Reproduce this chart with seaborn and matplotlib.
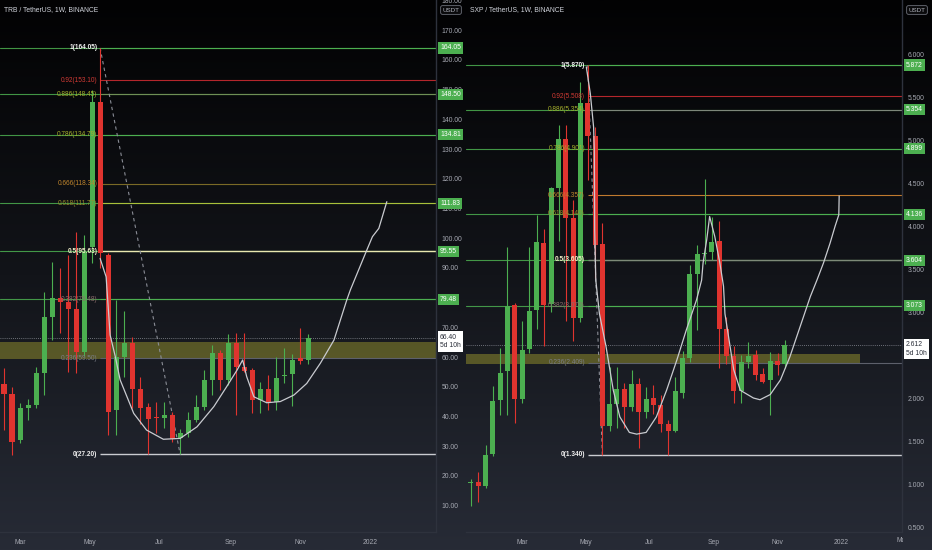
import numpy as np
import pandas as pd
import matplotlib
matplotlib.use('Agg')
import matplotlib.pyplot as plt
import matplotlib.dates as mdates
import matplotlib.transforms as mtransforms
from matplotlib.colors import LinearSegmentedColormap
import seaborn as sns

# ---- TRB / USDT weekly candles, first bar 2021-02-15 ----
trb_start = '2021-02-15'
trb_open = [50.9, 47.7, 32.1, 42.7, 44.0, 54.7, 73.6, 79.7, 78.6, 76.0,
            61.8, 97.0, 145.9, 94.3, 42.1, 59.9, 64.6, 49.1, 43.2, 39.6,
            39.3, 40.6, 32.6, 34.3, 38.8, 43.0, 52.2, 61.4, 52.4, 64.8,
            56.5, 55.6, 45.5, 49.1, 44.9, 53.5, 54.2, 59.5, 59.0]
trb_high = [56.2, 50.0, 44.4, 46.0, 56.7, 82.0, 92.0, 90.0, 94.3, 102.0,
            101.0, 150.0, 164.05, 95.0, 79.2, 75.6, 66.6, 53.4, 44.4, 44.9,
            44.9, 41.6, 35.6, 41.6, 47.2, 55.6, 64.0, 62.3, 67.9, 68.2,
            68.0, 56.2, 51.7, 53.9, 60.0, 62.9, 61.0, 69.6, 67.9]
trb_low = [35.4, 27.0, 31.0, 38.8, 42.7, 47.2, 65.7, 68.0, 55.0, 54.5,
           60.5, 91.6, 90.0, 33.7, 33.7, 53.4, 42.7, 37.6, 27.5, 34.3,
           36.0, 31.5, 27.2, 33.2, 38.2, 42.1, 47.2, 48.9, 50.5, 40.4,
           55.0, 41.0, 41.0, 42.1, 42.1, 51.1, 43.5, 57.6, 57.8]
trb_close = [47.7, 31.5, 42.7, 44.0, 54.5, 73.6, 79.7, 78.6, 76.0, 61.8,
             95.5, 145.9, 94.9, 41.5, 59.9, 64.6, 49.1, 42.7, 39.0, 39.4,
             40.4, 32.3, 34.3, 38.8, 43.0, 52.2, 61.4, 52.2, 64.8, 56.5,
             55.4, 45.5, 49.1, 44.9, 53.0, 53.8, 59.0, 58.7, 66.4]

# hand drawn cup curve (weeks after first bar, price)
trb_curve_week = [12.0, 12.75, 13.25, 13.9, 14.5, 16.2, 17.8, 19.9, 22.0, 24.1,
                  26.2, 27.8, 29.1, 29.8, 30.3, 31.2, 32.8, 34.5, 36.2, 37.8,
                  39.5, 41.2, 42.8, 43.25, 45.3, 46.0, 46.8, 47.8]
trb_curve_price = [93.2, 87.0, 67.4, 60.1, 52.3, 41.0, 35.4, 32.3, 32.6, 36.5,
                   43.3, 50.0, 55.6, 59.0, 53.4, 46.6, 44.6, 45.0, 47.2, 51.1,
                   57.9, 65.7, 79.2, 82.6, 96.0, 100.5, 103.3, 112.3]

trb_fib_ratio = ['1', '0.92', '0.886', '0.786', '0.666', '0.618', '0.5', '0.382', '0.236', '0']
trb_fib_value = [164.05, 153.10, 148.45, 134.79, 118.34, 111.77, 95.63, 79.48, 59.50, 27.20]
trb_tags = [164.05, 148.50, 134.81, 111.83, 95.55, 79.48]
trb_band = (59.3, 65.2)
trb_last = 66.40

# ---- SXP / USDT weekly candles, first bar 2021-01-11 ----
sxp_start = '2021-01-11'
sxp_open = [1.01, 1.019, 0.98, 1.35, 1.977, 2.31, 3.08, 1.985, 2.57, 3.02,
            3.80, 3.09, 4.44, 5.01, 4.09, 2.93, 5.43, 5.05, 3.79, 1.67,
            1.93, 2.11, 1.89, 2.16, 1.84, 2.00, 1.92, 1.70, 1.62, 2.06,
            2.46, 3.44, 3.67, 3.70, 3.82, 2.80, 2.49, 2.08, 2.42, 2.50,
            2.28, 2.21, 2.43, 2.39]
sxp_high = [1.06, 1.143, 1.45, 2.14, 2.58, 3.76, 3.10, 2.90, 3.76, 4.13,
            3.97, 4.45, 5.17, 5.17, 4.30, 5.68, 5.87, 5.15, 4.04, 2.36,
            2.36, 2.17, 2.33, 2.23, 2.13, 2.15, 2.03, 1.74, 2.25, 2.55,
            3.55, 3.78, 4.55, 4.10, 4.06, 2.94, 2.60, 2.50, 2.65, 2.56,
            2.35, 2.53, 2.52, 2.68]
sxp_low = [0.74, 0.794, 0.949, 1.32, 1.80, 1.80, 1.71, 1.94, 2.52, 2.80,
           2.60, 3.00, 3.82, 2.90, 2.66, 2.88, 4.53, 3.40, 1.34, 1.62,
           1.65, 1.65, 1.85, 1.42, 1.77, 1.81, 1.61, 1.34, 1.60, 2.00,
           2.42, 2.79, 3.56, 3.60, 2.35, 2.40, 1.94, 1.94, 2.35, 2.21,
           2.18, 1.80, 2.27, 2.35]
sxp_close = [1.02, 0.976, 1.337, 1.969, 2.296, 3.07, 1.985, 2.56, 3.01, 3.81,
             3.08, 4.44, 5.01, 4.09, 2.93, 5.43, 5.05, 3.78, 1.67, 1.93,
             2.11, 1.89, 2.16, 1.84, 1.99, 1.92, 1.70, 1.62, 2.08, 2.46,
             3.44, 3.67, 3.69, 3.81, 2.80, 2.49, 2.08, 2.42, 2.49, 2.27,
             2.19, 2.43, 2.38, 2.612]

sxp_curve_week = [15.8, 16.35, 16.8, 16.9, 16.95, 17.1, 17.6, 18.5, 19.5, 20.4,
                  21.7, 22.7, 24.0, 25.4, 26.8, 28.2, 29.5, 30.9, 31.6, 31.8,
                  32.3, 32.7, 33.4, 34.1, 34.6, 34.8, 35.5, 36.0, 36.9, 38.7,
                  39.6, 41.0, 42.4, 43.7, 45.1, 46.5, 47.4, 48.3, 49.2, 49.9,
                  50.4, 50.45]
sxp_curve_price = [5.85, 5.54, 5.15, 4.88, 3.95, 3.37, 2.98, 2.60, 2.09, 1.78,
                   1.60, 1.58, 1.60, 1.78, 2.09, 2.44, 2.79, 3.14, 3.37, 3.57,
                   3.84, 4.11, 3.88, 3.57, 3.30, 2.98, 2.60, 2.33, 2.09, 2.00,
                   1.98, 2.04, 2.21, 2.48, 2.83, 3.18, 3.37, 3.57, 3.80, 4.00,
                   4.13, 4.35]

sxp_fib_ratio = ['1', '0.92', '0.886', '0.786', '0.666', '0.618', '0.5', '0.382', '0.236', '0']
sxp_fib_value = [5.870, 5.508, 5.354, 4.901, 4.357, 4.140, 3.605, 3.070, 2.409, 1.340]
sxp_tags = [5.872, 5.354, 4.899, 4.136, 3.604, 3.073]
sxp_band = (2.40, 2.51)
sxp_last = 2.612

# styling
GREEN = '#4caf50'
RED = '#e0342f'
TXT = '#a6a9b2'
trb_line_colors = ['#4caf50', '#b5262c', '#6f8f55', '#4caf50', '#7a6a26',
                   '#a9c03a', '#e9e7b0', '#4caf50', '#5d606b', '#c9cbd0']
sxp_line_colors = ['#4caf50', '#b5262c', '#7d877a', '#4caf50', '#c07a2e',
                   '#4caf50', '#7d8a78', '#4caf50', '#5d606b', '#c9cbd0']
fib_label_colors = ['#f0f0f0', '#d23a34', '#a6b02c', '#a6b02c', '#c0862c',
                    '#9a8f2c', '#f1efc8', '#8c6c6c', '#7b7e88', '#f0f0f0']
FS = 4.9

sns.set_theme(style='dark')
plt.rcParams['font.family'] = ['Liberation Sans', 'DejaVu Sans']

W, H = 932, 550
fig = plt.figure(figsize=(W / 100, H / 100), dpi=100)

# gradient background like the tradingview dark theme
bg = fig.add_axes([0, 0, 1, 1], zorder=-10)
grad = np.linspace(0, 1, 256).reshape(-1, 1)
cmap = LinearSegmentedColormap.from_list('tvbg', ['#020203', '#121419', '#272b36'])
bg.imshow(grad, aspect='auto', cmap=cmap, extent=[0, 1, 0, 1], origin='upper')
bg.axis('off')


def draw_panel(left_px, title, start, o, h, l, c, curve_w, curve_p,
               fib_ratio, fib_value, line_colors, anchor_idx, low_idx, tags, band, band_end,
               last, fmt, ylim, xlim, yticks, body_days, mar_label):
    ax = fig.add_axes([left_px / W, 18 / H, 436 / W, 532 / H])
    ax.patch.set_alpha(0)
    dates = pd.date_range(start, periods=len(o), freq='7D')
    x = mdates.date2num(dates)
    t0 = x[0]
    o, h, l, c = map(np.array, (o, h, l, c))
    ax.set_xlim(mdates.date2num(pd.Timestamp(xlim[0])), mdates.date2num(pd.Timestamp(xlim[1])))
    ax.set_ylim(*ylim)
    xmin, xmax = ax.get_xlim()

    # highlighted zone
    bx1 = xmax if band_end is None else mdates.date2num(pd.Timestamp(band_end))
    ax.fill_between([xmin, bx1], band[0], band[1], color='#8d8a2c', alpha=0.55, lw=0, zorder=1)

    # user horizontal lines with price tags
    for v in tags:
        ax.axhline(v, color=GREEN, lw=0.8, alpha=0.85, zorder=2)
    # last price line
    ax.axhline(last, color='#8a8d96', lw=0.6, ls=(0, (1, 1.5)), zorder=2)

    # fib retracement from the anchor bar
    ax_x = x[anchor_idx]
    for r, v, lc, tc in zip(fib_ratio, fib_value, line_colors, fib_label_colors):
        ax.hlines(v, ax_x, xmax, color=lc, lw=1.0 if r in ('0', '0.5') else 0.8, zorder=2)
        ax.annotate(f'{r}({fmt.format(v)})', xy=(ax_x, v), xytext=(-2, 0),
                    textcoords='offset points', ha='right', va='center',
                    fontsize=4.7, color=tc, zorder=6,
                    fontweight='bold' if r in ('1', '0', '0.5') else 'normal')
    ax.plot([x[anchor_idx], x[low_idx]], [fib_value[0], fib_value[-1]],
            color='#8a8d96', lw=0.8, ls=(0, (3, 3)), zorder=2)

    # candles
    up = c >= o
    cols = np.where(up, GREEN, RED)
    ax.vlines(x, l, h, colors=cols, lw=0.8, zorder=3)
    body = np.abs(c - o)
    body = np.maximum(body, (ylim[1] - ylim[0]) * 0.0015)
    ax.bar(x, body, bottom=np.minimum(o, c), width=body_days, color=cols, lw=0, zorder=4)

    # cup curve
    curve = pd.DataFrame({'x': t0 + np.array(curve_w) * 7, 'price': curve_p})
    sns.lineplot(data=curve, x='x', y='price', ax=ax, sort=False, estimator=None,
                 color='#c9cbd0', lw=0.9, zorder=5)

    # axes cosmetics
    for s in ('top', 'left'):
        ax.spines[s].set_visible(False)
    for s in ('right', 'bottom'):
        ax.spines[s].set_visible(True)
        ax.spines[s].set_color('#2e323d')
        ax.spines[s].set_linewidth(1)
    ax.grid(False)
    ax.set_xlabel('')
    ax.set_ylabel('')
    ax.yaxis.tick_right()
    ax.set_yticks(yticks)
    ax.set_yticklabels([fmt.format(v) for v in yticks])
    for lbl in ax.get_yticklabels():
        lbl.set_horizontalalignment('left')
    ax.tick_params(axis='y', length=0, pad=4, labelsize=FS, labelcolor=TXT)
    months = ['2021-03-01', '2021-05-01', '2021-07-01', '2021-09-01', '2021-11-01', '2022-01-01']
    ax.set_xticks(mdates.date2num(pd.to_datetime(months)))
    ax.set_xticklabels(['Mar', 'May', 'Jul', 'Sep', 'Nov', '2022'])
    ax.tick_params(axis='x', length=0, pad=5, labelsize=FS, labelcolor=TXT)

    if mar_label:
        t = ax.text(mdates.date2num(pd.Timestamp('2022-03-01')), -9 / 532, 'Mar',
                    transform=mtransforms.blended_transform_factory(ax.transData, ax.transAxes),
                    ha='center', va='center', fontsize=FS, color=TXT)
        t.set_clip_on(True)
        t.set_clip_box(mtransforms.TransformedBbox(
            mtransforms.Bbox([[left_px / W, 0], [(left_px + 437) / W, 1]]), fig.transFigure))

    ax.text(4 / 436, 1 - 10 / 532, title, transform=ax.transAxes, ha='left', va='center',
            fontsize=4.9, color='#d1d4dc')
    ax.text(1 + 15 / 436, 1 - 10 / 532, 'USDT', transform=ax.transAxes, ha='center',
            va='center', fontsize=4.5, color='#b2b5be', clip_on=False, zorder=8,
            bbox=dict(boxstyle='round,pad=0.3', fc='#0a0a0c', ec='#6b6e78', lw=0.6))

    tr = mtransforms.blended_transform_factory(ax.transAxes, ax.transData)
    for v in tags:
        ax.text(1 + 4 / 436, v, fmt.format(v), transform=tr, ha='left', va='center',
                fontsize=FS, color='white', clip_on=False, zorder=7,
                bbox=dict(boxstyle='square,pad=0.3', fc=GREEN, ec='none'))
    ax.annotate(f'{fmt.format(last)}\n5d 10h', xy=(1 + 4 / 436, last), xycoords=tr,
                xytext=(0, 3), textcoords='offset points', ha='left', va='top',
                fontsize=FS, color='#2a2e39', linespacing=1.3, annotation_clip=False,
                zorder=7, bbox=dict(boxstyle='square,pad=0.35', fc='white', ec='none'))
    return ax


draw_panel(0, 'TRB / TetherUS, 1W, BINANCE', trb_start, trb_open, trb_high, trb_low, trb_close,
           trb_curve_week, trb_curve_price, trb_fib_ratio, trb_fib_value, trb_line_colors, 12, 22,
           trb_tags, trb_band, None, trb_last, '{:.2f}', (1.08, 180.2),
           ('2021-02-11 12:00', '2022-02-27 14:00'), list(range(10, 190, 10)), 4.4, False)

draw_panel(466, 'SXP / TetherUS, 1W, BINANCE', sxp_start, sxp_open, sxp_high, sxp_low, sxp_close,
           sxp_curve_week, sxp_curve_price, sxp_fib_ratio, sxp_fib_value, sxp_line_colors, 16, 18,
           sxp_tags, sxp_band, '2022-01-19', sxp_last, '{:.3f}', (0.442, 6.628),
           ('2021-01-06 05:00', '2022-02-28 10:00'), list(np.arange(0.5, 6.01, 0.5)), 4.8, True)

fig.savefig('out.png', dpi=100)
